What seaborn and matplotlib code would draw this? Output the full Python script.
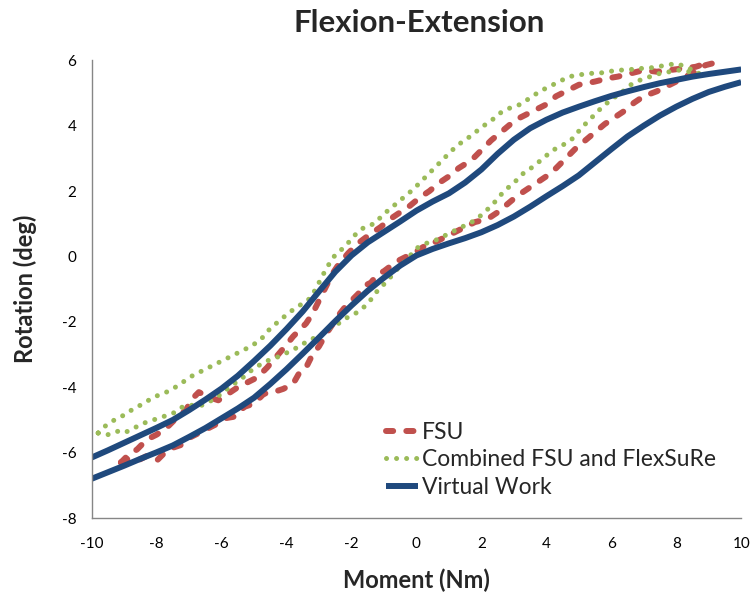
import matplotlib
matplotlib.use("Agg")
import matplotlib.pyplot as plt
import seaborn as sns
import pandas as pd
import numpy as np

# ---------------- data ----------------
title = "Flexion-Extension"
x_label = "Moment (Nm)"
y_label = "Rotation (deg)"
series_names = ["FSU", "Combined FSU and FlexSuRe", "Virtual Work"]
x_ticks = [-10, -8, -6, -4, -2, 0, 2, 4, 6, 8, 10]
y_ticks = [-8, -6, -4, -2, 0, 2, 4, 6]

# FSU (measured loop): loading branch then unloading branch
fsu_x = [-9.1, -8.9, -8.6, -8.3, -8.0, -7.8, -7.5, -7.2, -7.0, -6.8, -6.5, -6.2,
         -5.9, -5.6, -5.3, -5.0, -4.7, -4.4, -4.1, -3.8, -3.6, -3.4, -3.2, -3.0,
         -2.8, -2.6, -2.4, -2.2, -2.0, -1.8, -1.6, -1.4, -1.2, -1.0, -0.8, -0.6,
         -0.3, 0.0, 0.3, 0.6, 1.0, 1.4, 1.8, 2.2, 2.5, 2.8, 3.1, 3.4, 3.7, 4.0,
         4.3, 4.6, 4.9, 5.2, 5.5, 5.8, 6.1, 6.4, 6.7, 7.0, 7.4, 7.7, 8.0, 8.3,
         8.6, 8.9, 9.1,
         8.9, 8.6, 8.2, 7.8, 7.4, 7.0, 6.6, 6.2, 5.9, 5.5, 5.0, 4.6, 4.3, 4.0,
         3.6, 3.2, 2.9, 2.6, 2.3, 2.0, 1.7, 1.3, 1.0, 0.7, 0.4, 0.1, -0.2, -0.5,
         -0.8, -1.1, -1.4, -1.8, -2.1, -2.4, -2.6, -2.8, -3.0, -3.2, -3.4, -3.6,
         -3.8, -4.0, -4.3, -4.6, -4.9, -5.2, -5.5, -5.8, -6.1, -6.4, -6.7, -6.9,
         -7.1, -7.4, -7.7, -8.0, -8.3, -8.6, -8.9, -9.1]
fsu_y = [-6.30, -6.20, -6.25, -6.10, -6.25, -6.05, -5.85, -5.75, -5.55, -5.45, -5.30, -5.15,
         -4.95, -4.90, -4.60, -4.50, -4.20, -4.15, -4.05, -3.90, -3.55, -3.40, -3.00, -2.75,
         -2.40, -2.10, -1.80, -1.55, -1.35, -1.15, -0.90, -0.80, -0.55, -0.45, -0.30, -0.15,
         0.00, 0.15, 0.35, 0.45, 0.65, 0.85, 1.05, 1.15, 1.35, 1.60, 1.85, 2.05, 2.25, 2.45,
         2.70, 3.00, 3.30, 3.55, 3.80, 4.05, 4.25, 4.45, 4.70, 4.90, 5.05, 5.20, 5.35, 5.50,
         5.65, 5.85, 5.90,
         5.90, 5.80, 5.75, 5.70, 5.65, 5.70, 5.60, 5.50, 5.45, 5.35, 5.25, 5.05, 4.90, 4.65,
         4.45, 4.25, 4.05, 3.80, 3.55, 3.25, 2.95, 2.70, 2.45, 2.25, 2.00, 1.80, 1.55, 1.35,
         1.15, 0.90, 0.70, 0.40, 0.10, -0.25, -0.55, -0.95, -1.35, -1.75, -2.05, -2.25,
         -2.45, -2.70, -3.05, -3.40, -3.70, -3.85, -4.00, -4.20, -4.40, -4.30, -4.15, -4.35,
         -4.70, -4.95, -5.25, -5.45, -5.60, -5.90, -6.10, -6.30]

# Combined FSU and FlexSuRe loop
comb_x = [-9.8, -9.5, -9.2, -9.0, -8.7, -8.4, -8.1, -7.8, -7.5, -7.2, -6.9, -6.6,
          -6.3, -6.0, -5.7, -5.4, -5.1, -4.8, -4.5, -4.2, -3.9, -3.6, -3.3, -3.0,
          -2.7, -2.4, -2.1, -1.8, -1.5, -1.2, -0.9, -0.6, -0.3, 0.0, 0.3, 0.6, 0.9,
          1.2, 1.5, 1.8, 2.1, 2.4, 2.7, 3.0, 3.3, 3.6, 3.9, 4.2, 4.5, 4.8, 5.1, 5.4,
          5.7, 6.0, 6.3, 6.6, 6.9, 7.2, 7.5, 7.8, 8.1, 8.4, 8.7,
          8.3, 8.0, 7.7, 7.4, 7.1, 6.8, 6.5, 6.2, 5.9, 5.6, 5.3, 5.0, 4.7, 4.4, 4.1,
          3.8, 3.5, 3.2, 2.9, 2.6, 2.3, 2.0, 1.7, 1.4, 1.1, 0.8, 0.5, 0.2, -0.1,
          -0.4, -0.7, -1.0, -1.3, -1.6, -1.9, -2.2, -2.5, -2.7, -2.9, -3.1, -3.3,
          -3.6, -3.9, -4.2, -4.5, -4.8, -5.1, -5.4, -5.7, -6.0, -6.3, -6.6, -6.9,
          -7.2, -7.5, -7.8, -8.1, -8.4, -8.7, -9.0, -9.3, -9.6, -9.8]
comb_y = [-5.40, -5.45, -5.35, -5.40, -5.25, -5.10, -5.00, -4.90, -4.80, -4.60, -4.55, -4.55,
          -4.40, -4.20, -3.95, -3.75, -3.50, -3.30, -3.15, -3.05, -2.90, -2.75, -2.55, -2.45,
          -2.20, -2.05, -1.85, -1.70, -1.45, -1.05, -0.75, -0.40, -0.10, 0.25, 0.40, 0.50, 0.65,
          0.80, 0.95, 1.10, 1.35, 1.65, 2.00, 2.25, 2.55, 2.75, 3.00, 3.25, 3.40, 3.60, 3.95, 4.25,
          4.55, 4.80, 5.00, 5.25, 5.40, 5.50, 5.60, 5.65, 5.70, 5.65, 5.60,
          5.80, 5.90, 5.85, 5.80, 5.75, 5.75, 5.70, 5.70, 5.65, 5.60, 5.60, 5.55, 5.50, 5.35, 5.20,
          5.05, 4.85, 4.65, 4.55, 4.40, 4.15, 3.95, 3.70, 3.50, 3.25, 2.95, 2.65, 2.35, 2.05,
          1.80, 1.55, 1.30, 1.00, 0.90, 0.65, 0.30, 0.05, -0.25, -0.60, -1.00, -1.30,
          -1.50, -1.70, -1.95, -2.20, -2.55, -2.75, -2.90, -3.05, -3.20, -3.35, -3.50, -3.65,
          -3.85, -4.05, -4.20, -4.30, -4.50, -4.65, -4.85, -5.00, -5.20, -5.40]

# Virtual Work model: two branches
vw_x = [-10, -9.5, -9, -8.5, -8, -7.5, -7, -6.5, -6, -5.5, -5, -4.5, -4, -3.5, -3,
        -2.5, -2, -1.5, -1, -0.5, 0, 0.5, 1, 1.5, 2, 2.5, 3, 3.5, 4, 4.5, 5, 5.5,
        6, 6.5, 7, 7.5, 8, 8.5, 9, 9.5, 10]
vw_upper = [-6.15, -5.93, -5.70, -5.47, -5.24, -5.00, -4.70, -4.38, -4.04, -3.65, -3.20,
            -2.73, -2.22, -1.68, -1.07, -0.47, 0.03, 0.43, 0.75, 1.07, 1.40, 1.68, 1.93,
            2.26, 2.66, 3.14, 3.57, 3.92, 4.18, 4.40, 4.58, 4.75, 4.91, 5.05, 5.18, 5.30,
            5.40, 5.50, 5.58, 5.65, 5.72]
vw_lower = [-6.80, -6.60, -6.40, -6.19, -5.99, -5.78, -5.52, -5.25, -4.95, -4.65, -4.32,
            -3.90, -3.45, -2.97, -2.48, -1.98, -1.50, -1.05, -0.65, -0.28, 0.03, 0.23, 0.40,
            0.56, 0.74, 0.96, 1.22, 1.52, 1.84, 2.15, 2.48, 2.88, 3.28, 3.67, 4.00, 4.31,
            4.58, 4.82, 5.03, 5.19, 5.33]

# ---------------- frames ----------------
fsu_df = pd.DataFrame({"x": fsu_x, "y": fsu_y})
comb_df = pd.DataFrame({"x": comb_x, "y": comb_y})
vw_df = pd.DataFrame({
    "x": vw_x + vw_x,
    "y": vw_upper + vw_lower,
    "branch": ["upper"] * len(vw_x) + ["lower"] * len(vw_x),
})

# ---------------- style ----------------
sns.set_theme(style="white")
plt.rcParams["font.family"] = ["Lato", "DejaVu Sans"]

RED = "#C0504D"
GREEN = "#9BBB59"
BLUE = "#1F497D"
AXIS_GREY = "#868686"

fig = plt.figure(figsize=(7.54, 5.95), dpi=100)
ax = fig.add_axes([0.1216, 0.1294, 0.8614, 0.7693])

sns.lineplot(data=fsu_df, x="x", y="y", sort=False, estimator=None, ax=ax,
             color=RED, linewidth=4.3, linestyle=(0, (1.2, 2.2)),
             dash_capstyle="round", solid_capstyle="round", label=series_names[0])
sns.lineplot(data=comb_df, x="x", y="y", sort=False, estimator=None, ax=ax,
             color=GREEN, linewidth=3.6, linestyle=(0, (0.01, 2.0)),
             dash_capstyle="round", label=series_names[1])
first = True
for br in ["upper", "lower"]:
    sub = vw_df[vw_df["branch"] == br]
    sns.lineplot(data=sub, x="x", y="y", sort=False, estimator=None, ax=ax,
                 color=BLUE, linewidth=4.3, solid_capstyle="butt",
                 solid_joinstyle="round",
                 label=series_names[2] if first else None)
    first = False

ax.set_xlim(-10, 10)
ax.set_ylim(-8, 6)
ax.set_xticks(x_ticks)
ax.set_yticks(y_ticks)
ax.set_xticklabels([str(t) for t in x_ticks], fontsize=11)
ax.set_yticklabels([str(t) for t in y_ticks], fontsize=11)
ax.tick_params(axis="both", direction="out", length=5, width=1, color=AXIS_GREY,
               labelcolor="black", pad=6)
ax.tick_params(axis="x", pad=9)

for side in ["top", "right"]:
    ax.spines[side].set_visible(False)
for side in ["left", "bottom"]:
    ax.spines[side].set_color(AXIS_GREY)
    ax.spines[side].set_linewidth(1)

ax.set_xlabel(x_label, fontsize=17, fontweight="bold", labelpad=12)
ax.set_ylabel(y_label, fontsize=17, fontweight="bold", labelpad=18)
fig.text(0.556, 0.962, title, fontsize=22.5, fontweight="bold",
         ha="center", va="center")

handles, labels = ax.get_legend_handles_labels()
ax.legend(handles, labels, loc="upper left",
          bbox_to_anchor=(386 / 754, 1 - 422 / 595), bbox_transform=fig.transFigure,
          frameon=False, fontsize=16.5, handlelength=1.4, handletextpad=0.15,
          labelspacing=0.28, borderaxespad=0, borderpad=0)

fig.savefig("out.png", dpi=100)
